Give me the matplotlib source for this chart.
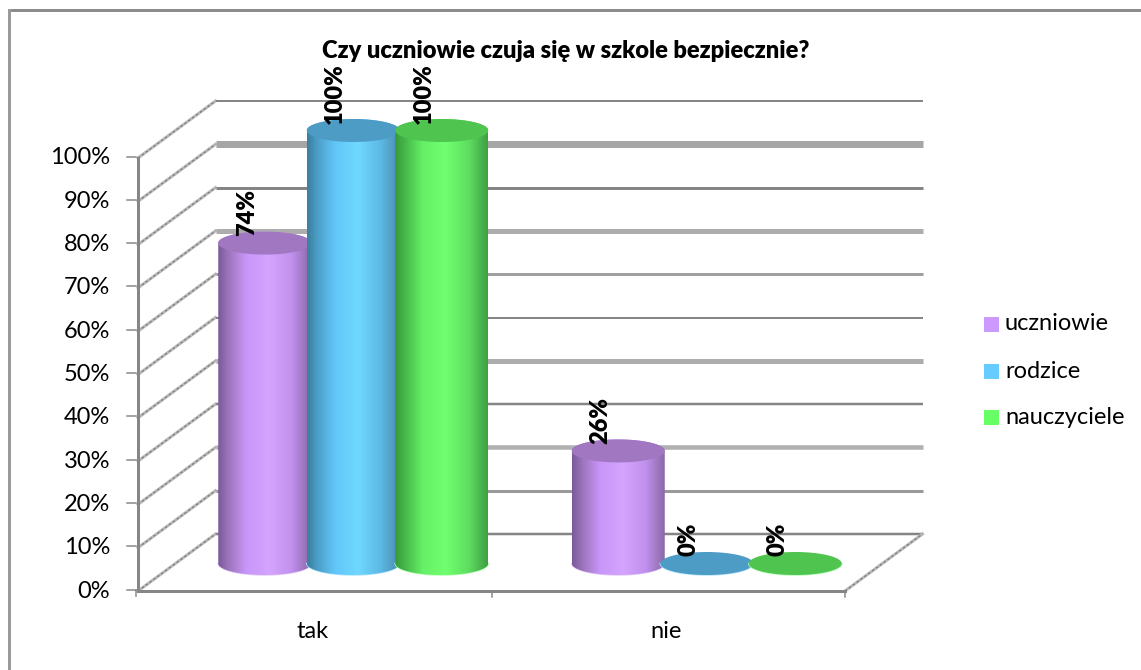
"""Uczniowie / rodzice / nauczyciele: 3D-looking cylinder column chart."""

import numpy as np
import matplotlib
matplotlib.use("Agg")
import matplotlib.pyplot as plt
from matplotlib.colors import to_rgb
from matplotlib.lines import Line2D
from matplotlib.patches import PathPatch, Rectangle
from matplotlib.path import Path

plt.rcParams["font.family"] = ["Lato", "DejaVu Sans"]

categories = ["tak", "nie"]
series_names = ["uczniowie", "rodzice", "nauczyciele"]
uczniowie = [74, 26]
rodzice = [100, 0]
nauczyciele = [100, 0]
y_ticks = [0, 10, 20, 30, 40, 50, 60, 70, 80, 90, 100]

W, H = 1141, 670
# plot box of the front plane, in pixels
LEFT, RIGHT, BOTTOM, TOP = 138, 845, 591, 158
DX_PX, DY_PX = 77.5, 57
FONT = 17

fig = plt.figure(figsize=(W / 100, H / 100), dpi=100, facecolor="white")
ax = fig.add_axes([LEFT / W, 1 - BOTTOM / H, (RIGHT - LEFT) / W, (BOTTOM - TOP) / H])
ax.axis("off")

px_x = 2 / (RIGHT - LEFT)
px_y = 100 / (BOTTOM - TOP)
px_lw = 0.72  # one pixel in points
dx = DX_PX * px_x
dy = DY_PX * px_y

GREY = "#868686"
# the back wall lines differ a lot in the source picture: (width in px, colour)
GRID_STYLE = {
    0: (2.5, "#858585"), 10: (3, "#999999"), 20: (4.5, "#b0b0b0"), 30: (2.5, "#858585"),
    40: (5, "#adadad"), 50: (2, "#858585"), 60: (3, "#a0a0a0"), 70: (5, "#adadad"),
    80: (3, "#858585"), 90: (7, "#a6a6a6"), 100: (2, "#858585"),
}

# outer frame only shows on the top and left
fig.add_artist(Line2D([8.5 / W, 1], [1 - 9.5 / H, 1 - 9.5 / H], color="#8c8c8c", lw=3 * px_lw))
fig.add_artist(Line2D([8.5 / W, 8.5 / W], [0, 1 - 9.5 / H], color="#9a9a9a", lw=3 * px_lw))


def slanted(x0, y0):
    ax.plot([x0, x0 + dx], [y0, y0 + dy], color="#b8b8b8", lw=3 * px_lw, clip_on=False, zorder=1)
    ax.plot([x0, x0 + dx], [y0, y0 + dy], color="#7c7c7c", lw=1.2 * px_lw, ls=(0, (2, 2)), clip_on=False, zorder=1)


# walls
for v in y_ticks:
    slanted(0, v)
    width, col = GRID_STYLE[v]
    ax.plot([dx, 2 + dx], [v + dy, v + dy], color=col, lw=width * px_lw,
            clip_on=False, zorder=1, solid_capstyle="butt")
    tick_y = v + 1.5 * px_y
    ax.plot([-11 * px_x, -2 * px_x], [tick_y, tick_y], color=GREY, lw=1.5 * px_lw, clip_on=False, zorder=2)
    ax.text(-28 * px_x, v, f"{v}%", ha="right", va="center", fontsize=FONT, color="black")

slanted(2, 0)
ax.plot([-2 * px_x, -2 * px_x], [1.5 * px_y, -5 * px_y], color=GREY, lw=1.5 * px_lw, clip_on=False, zorder=2)
ax.plot([0, 0], [0, 100], color=GREY, lw=3 * px_lw, clip_on=False, zorder=2, solid_capstyle="projecting")
ax.plot([0, 2], [0, 0], color=GREY, lw=3 * px_lw, clip_on=False, zorder=2)
for t in [1, 2]:
    ax.plot([t, t], [0, -6 * px_y], color=GREY, lw=1.5 * px_lw, clip_on=False, zorder=2)

for i, name in enumerate(categories):
    ax.text(i + 0.5 - 2 * px_x, -(632 - BOTTOM) * px_y, name, ha="center", va="center", fontsize=FONT)

fig.text(566 / W, 1 - 51 / H, "Czy uczniowie czuja się w szkole bezpiecznie?", ha="center", va="center",
         fontsize=FONT, fontweight="heavy")

# cylinders
side_stops = [0, 0.1, 0.3, 0.55, 0.8, 1]
side_colors = [
    ["#7a5a9a", "#9a72b8", "#c896f8", "#d4a4ff", "#c090ec", "#8a68a8"],
    ["#3a7fa0", "#4a9cc4", "#62c6f8", "#70d8ff", "#5cb8e4", "#4a8cb0"],
    ["#389a3c", "#45b648", "#66f066", "#70ff70", "#5edc60", "#3f9f42"],
]
top_colors = ["#a077c0", "#4d9cc6", "#4fc44f"]
edge_light = ["#e6d2ff", "#b6e6ff", "#b4ffb4"]
legend_colors = ["#cc99ff", "#66ccff", "#66ff66"]
all_values = [uczniowie, rodzice, nauczyciele]

half_w = 46.5 * px_x
half_h = 11.5 * px_y
base_y = (BOTTOM - 563.5) * px_y
group_offsets = [-88.5 * px_x, 0, 88.5 * px_x]
centers = [0.5 + 38.5 * px_x, 1.5 + 38.5 * px_x]
theta = np.linspace(0, 2 * np.pi, 121)
t_low = np.linspace(np.pi, 2 * np.pi, 61)
t_up = np.linspace(0, np.pi, 61)
u = np.linspace(0, 1, 94)

z = 5
for c, cat in enumerate(categories):
    for s, values in enumerate(all_values):
        xc = centers[c] + group_offsets[s]
        v = values[c]
        top_y = base_y + v
        low_x = xc + half_w * np.cos(t_low)
        low_y = base_y + half_h * np.sin(t_low)
        ax.plot(low_x, low_y, color=edge_light[s], lw=1.5 * px_lw, zorder=z, clip_on=False)
        if v > 0:
            xs = np.r_[low_x, xc + half_w * np.cos(t_up)]
            ys = np.r_[low_y, top_y + half_h * np.sin(t_up)]
            body = PathPatch(Path(np.c_[xs, ys]), facecolor="none", edgecolor="none", zorder=z, clip_on=False)
            ax.add_patch(body)
            rgb = np.array([to_rgb(col) for col in side_colors[s]])
            grad = np.stack([np.interp(u, side_stops, rgb[:, k]) for k in range(3)], axis=1)
            im = ax.imshow(grad[None, :, :], extent=[xc - half_w, xc + half_w, base_y - half_h, top_y + half_h],
                           aspect="auto", zorder=z, interpolation="bilinear")
            im.set_clip_box(fig.bbox)
            im.set_clip_path(body)
        ax.fill(xc + half_w * np.cos(theta), top_y + half_h * np.sin(theta), color=top_colors[s], lw=0,
                zorder=z + 1, clip_on=False)
        ax.text(xc - 18 * px_x, top_y + 7 * px_y, f"{v}%", rotation=90, ha="center", va="bottom", fontsize=FONT,
                fontweight="heavy", zorder=z + 2, clip_on=False)
        z += 3

ax.set_xlim(0, 2)
ax.set_ylim(0, 100)

# legend
for name, col, yp in zip(series_names, legend_colors, [324, 371, 417]):
    fig.add_artist(Rectangle((984 / W, 1 - (yp + 7.5) / H), 15 / W, 15 / H, transform=fig.transFigure,
                             facecolor=col, edgecolor="none"))
    fig.text(1005 / W, 1 - yp / H, name, ha="left", va="center", fontsize=FONT)

fig.savefig("out.png", dpi=100)
